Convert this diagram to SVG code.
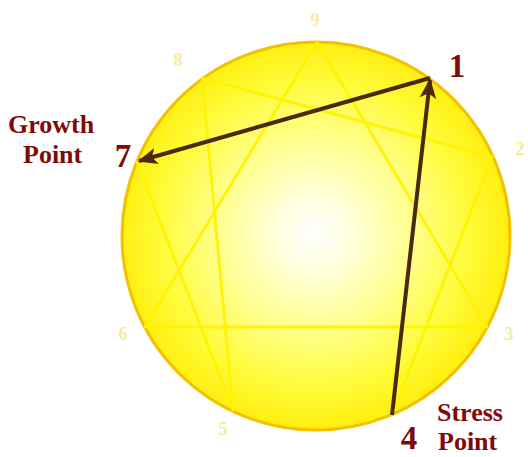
<svg xmlns="http://www.w3.org/2000/svg" width="528" height="457" viewBox="0 0 528 457">
<defs>
<radialGradient id="sun" cx="314" cy="234" r="194" gradientUnits="userSpaceOnUse">
<stop offset="0" stop-color="#FFFFFF"/>
<stop offset="0.18" stop-color="#FFFFE0"/>
<stop offset="0.5" stop-color="#FFFF8C"/>
<stop offset="0.8" stop-color="#FFFB38"/>
<stop offset="1" stop-color="#FFEF10"/>
</radialGradient>
<marker id="head" viewBox="0 0 12 10" refX="11" refY="5" markerWidth="5" markerHeight="5" orient="auto" markerUnits="strokeWidth">
<path d="M0,0 L12,5 L0,10 L3,5 Z" fill="#4A2A0E"/>
</marker>
<style>
.fig{fill:none;stroke:#FFF200;stroke-width:3;stroke-linejoin:round;opacity:0.9}
.arrow{fill:none;stroke:#4A2A0E;stroke-width:4;marker-end:url(#head)}
.small{font-family:"Liberation Serif","Times New Roman",serif;font-weight:bold;font-size:18px;fill:#F4EC9C;text-anchor:middle}
.big{font-family:"Liberation Serif","Times New Roman",serif;font-weight:bold;font-size:33px;fill:#7E0A0A;text-anchor:middle}
.lbl{font-family:"Liberation Serif","Times New Roman",serif;font-weight:bold;font-size:26px;fill:#7E0A0A}
</style>
</defs>
<g id="circle">
<circle cx="316" cy="236" r="194" fill="url(#sun)" stroke="#F2C200" stroke-width="3"/>
</g>
<g id="figure">
<polygon class="fig" points="317,42 487,327 145,327"/>
<polygon class="fig" points="430,78 392,415 492,157 202,78 233,410 137,162"/>
</g>
<g id="connectors">
<line class="arrow" x1="430" y1="78" x2="139" y2="161"/>
<line class="arrow" x1="392" y1="415" x2="430" y2="80"/>
</g>
<g id="n9"><text class="small" x="315" y="26">9</text></g>
<g id="n8"><text class="small" x="178" y="66">8</text></g>
<g id="n2"><text class="small" x="520" y="155">2</text></g>
<g id="n3"><text class="small" x="509" y="340">3</text></g>
<g id="n6"><text class="small" x="123" y="340">6</text></g>
<g id="n5"><text class="small" x="223" y="435">5</text></g>
<g id="n1"><text class="big" x="457" y="77">1</text></g>
<g id="n7"><text class="big" x="123" y="167">7</text></g>
<g id="n4"><text class="big" x="409" y="449">4</text></g>
<g id="growth"><text class="lbl" x="8" y="133">Growth</text><text class="lbl" x="23" y="163">Point</text></g>
<g id="stress"><text class="lbl" x="437" y="421">Stress</text><text class="lbl" x="438" y="450">Point</text></g>
</svg>
